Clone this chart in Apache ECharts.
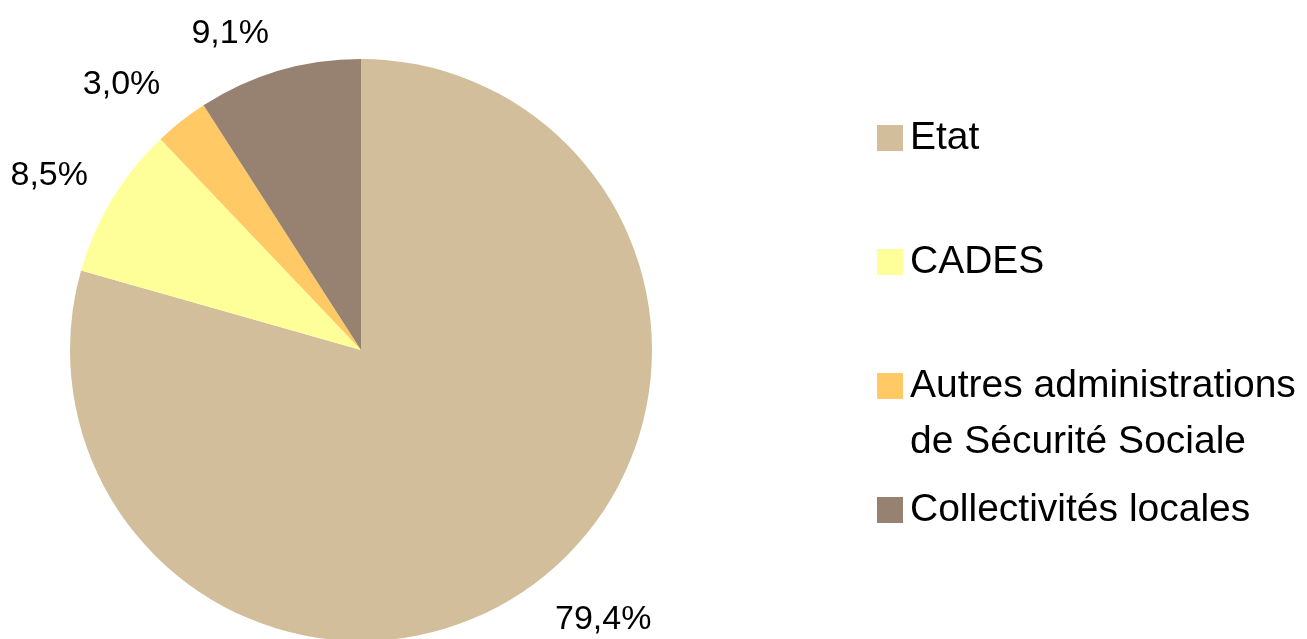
<!DOCTYPE html>
<html lang="fr">
<head>
    <meta charset="utf-8">
    <script src="https://cdn.jsdelivr.net/npm/echarts@6/dist/echarts.min.js"></script>
    <style>
        html, body {
            margin: 0px;
            padding: 0px;
            width: 100%;
            height: 100%;
            background-color: #fff;
        }

        #chart {
            width: 1307px;
            height: 639px;
        }
    </style>
</head>
<body>
<div id="chart"></div>
<script type="text/javascript">
    // données
    var categories = ['Etat', 'CADES', 'Autres administrations\nde Sécurité Sociale', 'Collectivités locales'];
    var shares = [79.4, 8.5, 3.0, 9.1];
    var colors = ['#D3BE9B', '#FFFF99', '#FFCA66', '#978170'];

    // réglage de la position des étiquettes (longueur radiale, décalage horizontal)
    var labelLen = [47.4, 45.5, 46.7, 39];
    var labelLen2 = [-10, -15, -8, -1];

    var myChart = echarts.init(document.getElementById('chart'));

    var pieData = [];
    for (var i = 0; i < categories.length; i++) {
        pieData.push({
            name: categories[i],
            value: shares[i],
            itemStyle: {color: colors[i]},
            labelLine: {show: false, length: labelLen[i], length2: labelLen2[i]}
        });
    }

    // une légende par entrée pour placer chaque ligne comme sur l'original
    var legendTops = [110, 234, 302, 482];
    var legends = [];
    for (var j = 0; j < categories.length; j++) {
        var twoLines = categories[j].indexOf('\n') >= 0;
        legends.push({
            data: [categories[j]],
            orient: 'vertical',
            left: 877,
            top: legendTops[j],
            padding: 0,
            icon: 'rect',
            itemWidth: 26,
            itemHeight: 26,
            selectedMode: false,
            // ligne vide en tête : la 1re ligne du texte reste au niveau du carré
            formatter: twoLines ? function (name) { return '\n' + name; } : '{name}',
            textStyle: {
                color: '#000',
                fontFamily: '"Liberation Sans", Arial, sans-serif',
                fontSize: 39,
                lineHeight: 56,
                padding: [0, 0, 0, 2]
            }
        });
    }

    var option = {
        backgroundColor: '#fff',
        animation: false,
        legend: legends,
        series: [{
            type: 'pie',
            center: [361, 350],
            radius: 291,
            startAngle: 90,
            clockwise: true,
            avoidLabelOverlap: false,
            itemStyle: {borderWidth: 0},
            emphasis: {disabled: true},
            label: {
                show: true,
                position: 'outside',
                distanceToLabelLine: 0,
                color: '#000',
                fontFamily: '"Liberation Sans", Arial, sans-serif',
                fontSize: 34,
                formatter: function (p) {
                    return p.value.toFixed(1).replace('.', ',') + '%';
                }
            },
            labelLine: {show: false},
            data: pieData
        }]
    };

    myChart.setOption(option);
</script>
</body>
</html>
